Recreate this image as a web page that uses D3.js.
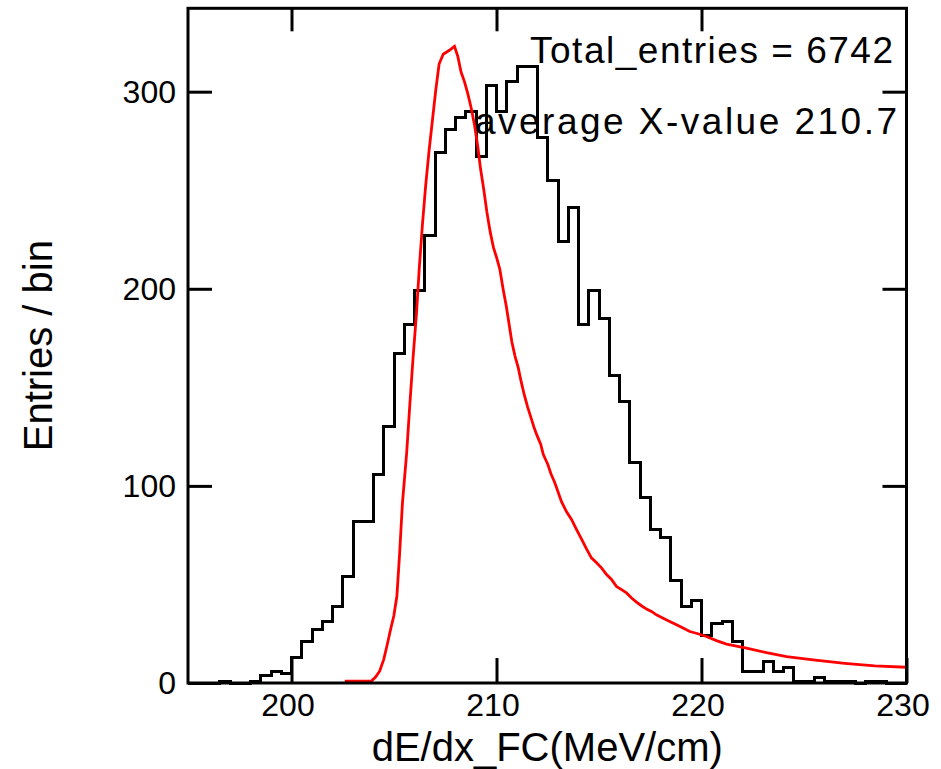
<!DOCTYPE html>
<html>
<head>
<meta charset="utf-8">
<script src="https://cdn.jsdelivr.net/npm/d3@7"></script>
<style>
  body { margin: 0; background: #fff; }
  svg { display: block; font-family: "Liberation Sans", Arial, sans-serif; }
</style>
</head>
<body>
<div id="chart"></div>
<script>
// histogram: 0.5 MeV/cm bins starting at 195
const binLow = 195;
const binWidth = 0.5;
const counts = [
  0, 0, 0, 1, 0, 0, 1, 4, 6, 5,
  13, 21, 27, 31, 39, 54, 82, 82, 106, 130,
  167, 182, 199, 227, 269, 281, 287, 290, 267, 303,
  290, 305, 313, 313, 277, 255, 224, 241, 182, 199,
  185, 156, 143, 112, 94, 78, 74, 52, 39, 42,
  24, 30, 31, 21, 6, 6, 11, 6, 8, 1,
  1, 3, 1, 1, 1, 0, 1, 1, 0, 0
];

// red fit curve
const fitCurve = [
  [202.6, 1], [203.9, 1], [204.1, 3], [204.3, 6], [204.5, 12], [204.66, 19], [204.83, 27],
  [204.99, 34], [205.14, 44], [205.27, 65], [205.41, 91], [205.62, 117], [205.77, 141],
  [205.93, 165], [206.1, 188], [206.23, 210], [206.39, 233], [206.55, 253], [206.71, 270],
  [206.88, 286], [207.04, 301], [207.2, 314], [207.4, 319], [207.7, 321], [207.95, 323],
  [208.11, 318], [208.27, 310], [208.44, 305], [208.6, 299], [208.76, 292], [208.93, 283],
  [209.09, 272], [209.22, 261], [209.37, 251], [209.53, 239], [209.69, 229], [209.85, 221],
  [210.0, 216], [210.16, 210], [210.32, 200], [210.48, 191], [210.63, 181], [210.75, 173],
  [210.9, 166], [211.06, 160], [211.2, 153], [211.36, 146], [211.52, 140], [211.67, 135],
  [211.82, 130], [211.96, 126], [212.16, 121], [212.28, 116], [212.5, 111], [212.66, 106],
  [212.83, 102], [213.0, 97], [213.17, 92], [213.41, 87], [213.66, 83], [213.9, 78],
  [214.15, 73], [214.39, 68], [214.63, 63.5], [214.88, 61], [215.12, 58.4], [215.37, 55],
  [215.61, 52.5], [215.85, 49], [216.1, 47.4], [216.34, 45.7], [216.59, 43.1], [216.83, 41],
  [217.07, 39.2], [217.32, 37.5], [217.56, 36.3], [217.8, 34.6], [218.13, 32.9], [218.45, 31.2],
  [218.78, 29.5], [219.1, 27.9], [219.43, 26.1], [219.83, 25], [220.24, 23.6], [220.73, 21.5],
  [221.22, 19.7], [222.2, 17.7], [223.17, 15.4], [224.15, 13.4], [225.45, 11.7], [226.99, 10],
  [228.45, 8.7], [230.0, 8]
];

const xTicks = [200, 210, 220, 230];
const yTicks = [0, 100, 200, 300];
const xLabel = "dE/dx_FC(MeV/cm)";
const yLabel = "Entries / bin";
const statLines = ["Total_entries = 6742", "average X-value 210.7"];

const W = 941, H = 769;
const frame = { left: 188, right: 906.5, top: 8.3, bottom: 683 };

const svg = d3.select("#chart").append("svg")
  .attr("width", W)
  .attr("height", H);

svg.append("rect").attr("width", W).attr("height", H).attr("fill", "#fff");

const x = d3.scaleLinear().domain([195, 230]).range([frame.left + 1, frame.right]);
const y = d3.scaleLinear().domain([0, 342.3]).range([frame.bottom, frame.top]);

// histogram outline as steps
const steps = [[binLow, 0]];
counts.forEach((c, i) => {
  steps.push([binLow + i * binWidth, c]);
  steps.push([binLow + (i + 1) * binWidth, c]);
});
steps.push([binLow + counts.length * binWidth, 0]);

svg.append("path")
  .datum(steps)
  .attr("fill", "none")
  .attr("stroke", "#000")
  .attr("stroke-width", 3)
  .attr("shape-rendering", "crispEdges")
  .attr("d", d3.line().x(d => x(d[0])).y(d => y(d[1])));

// fit curve
svg.append("path")
  .datum(fitCurve)
  .attr("fill", "none")
  .attr("stroke", "#ff0000")
  .attr("stroke-width", 2.8)
  .attr("d", d3.line().x(d => x(d[0])).y(d => y(d[1])));

// axes (ticks point inward)
const styleAxis = g => {
  g.select(".domain").remove();
  g.selectAll(".tick line").attr("stroke", "#000").attr("stroke-width", 3);
  g.selectAll(".tick text").attr("fill", "#000").style("font-size", "32px");
};

svg.append("g")
  .attr("transform", `translate(0,${frame.bottom})`)
  .call(d3.axisBottom(x).tickValues(xTicks).tickSize(-25).tickPadding(10).tickFormat(d3.format("d")))
  .call(styleAxis)
  .call(g => g.selectAll(".tick text").attr("dx", -4));

svg.append("g")
  .attr("transform", `translate(0,${frame.top})`)
  .call(d3.axisTop(x).tickValues(xTicks.slice(0, 3)).tickSize(-23).tickFormat(""))
  .call(styleAxis);

svg.append("g")
  .attr("transform", `translate(${frame.left},0)`)
  .call(d3.axisLeft(y).tickValues(yTicks).tickSize(-24).tickPadding(12))
  .call(styleAxis)
  .call(g => g.selectAll(".tick text").attr("dy", "0.33em"));

svg.append("g")
  .attr("transform", `translate(${frame.right},0)`)
  .call(d3.axisRight(y).tickValues(yTicks.slice(1)).tickSize(-24).tickFormat(""))
  .call(styleAxis);

// frame
svg.append("rect")
  .attr("x", frame.left)
  .attr("y", frame.top)
  .attr("width", frame.right - frame.left)
  .attr("height", frame.bottom - frame.top)
  .attr("fill", "none")
  .attr("stroke", "#000")
  .attr("stroke-width", 3);

// titles
svg.append("text")
  .attr("x", (frame.left + frame.right) / 2)
  .attr("y", 761)
  .attr("text-anchor", "middle")
  .style("font-size", "40px")
  .text(xLabel);

svg.append("text")
  .attr("transform", `translate(52,${(frame.top + frame.bottom) / 2}) rotate(-90)`)
  .attr("text-anchor", "middle")
  .style("font-size", "40px")
  .text(yLabel);

// stats box text
const statPos = [{ x: 893, y: 63, w: 363 }, { x: 897, y: 134, w: 422 }];
statLines.forEach((s, i) => {
  svg.append("text")
    .attr("x", statPos[i].x - statPos[i].w)
    .attr("y", statPos[i].y)
    .attr("textLength", statPos[i].w)
    .attr("lengthAdjust", "spacing")
    .style("font-size", "37px")
    .text(s);
});
</script>
</body>
</html>
